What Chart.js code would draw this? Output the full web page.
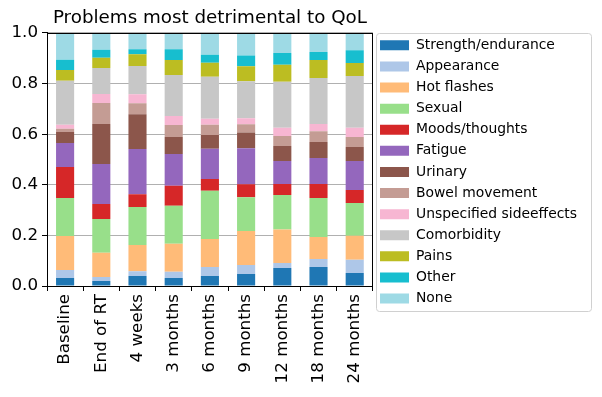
<!DOCTYPE html>
<html>
<head>
<meta charset="utf-8">
<script src="https://cdn.jsdelivr.net/npm/chart.js@4.4.1/dist/chart.umd.min.js"></script>
<style>
  html, body { margin: 0; padding: 0; background: #fff; }
  #wrap { width: 602px; height: 397px; }
</style>
</head>
<body>
<div id="wrap"><canvas id="grafico" width="602" height="397"></canvas></div>
<script>
// categorias do eixo x
const momentos = ['Baseline', 'End of RT', '4 weeks', '3 months', '6 months', '9 months', '12 months', '18 months', '24 months'];

// fração de cada problema por momento
const strengthEndurance = [0.032, 0.020, 0.040, 0.032, 0.040, 0.047, 0.071, 0.075, 0.051];
const appearance        = [0.031, 0.016, 0.018, 0.024, 0.035, 0.036, 0.020, 0.032, 0.053];
const hotFlashes        = [0.135, 0.095, 0.104, 0.111, 0.111, 0.134, 0.132, 0.087, 0.095];
const sexual            = [0.150, 0.134, 0.150, 0.150, 0.190, 0.134, 0.137, 0.154, 0.129];
const moodsThoughts     = [0.122, 0.059, 0.051, 0.079, 0.047, 0.051, 0.043, 0.055, 0.051];
const fatigue           = [0.095, 0.158, 0.178, 0.126, 0.119, 0.142, 0.091, 0.103, 0.115];
const urinary           = [0.044, 0.158, 0.138, 0.067, 0.055, 0.063, 0.059, 0.063, 0.055];
const bowelMovement     = [0.012, 0.083, 0.043, 0.047, 0.040, 0.032, 0.040, 0.043, 0.040];
const unspecified       = [0.016, 0.036, 0.036, 0.036, 0.024, 0.024, 0.032, 0.028, 0.036];
const comorbidity       = [0.174, 0.103, 0.111, 0.162, 0.166, 0.146, 0.182, 0.182, 0.205];
const pains             = [0.043, 0.040, 0.047, 0.059, 0.055, 0.059, 0.067, 0.071, 0.051];
const other             = [0.040, 0.032, 0.020, 0.043, 0.032, 0.043, 0.047, 0.032, 0.051];
const none              = [0.107, 0.067, 0.063, 0.063, 0.087, 0.087, 0.079, 0.075, 0.067];

const nomesSeries = ['Strength/endurance', 'Appearance', 'Hot flashes', 'Sexual', 'Moods/thoughts', 'Fatigue',
    'Urinary', 'Bowel movement', 'Unspecified sideeffects', 'Comorbidity', 'Pains', 'Other', 'None'];
const valoresSeries = [strengthEndurance, appearance, hotFlashes, sexual, moodsThoughts, fatigue,
    urinary, bowelMovement, unspecified, comorbidity, pains, other, none];

const ticksY = [0.0, 0.2, 0.4, 0.6, 0.8, 1.0];

// cores no estilo tab20
const cores = ['#1f77b4', '#aec7e8', '#ffbb78', '#98df8a', '#d62728', '#9467bd',
    '#8c564b', '#c49c94', '#f7b6d2', '#c7c7c7', '#bcbd22', '#17becf', '#9edae5'];

window.onload = () => {
    apresentarGrafico();
}

// moldura preta em volta da área do gráfico e caixa da legenda
const molduraPlugin = {
    id: 'moldura',
    afterDraw(chart) {
        const { ctx, chartArea } = chart;
        ctx.save();
        ctx.strokeStyle = '#000';
        ctx.lineWidth = 1;
        ctx.strokeRect(Math.round(chartArea.left) + 0.5, Math.round(chartArea.top) + 0.5,
            Math.round(chartArea.right - chartArea.left) - 1, Math.round(chartArea.bottom - chartArea.top));

        const caixas = chart.legend.legendHitBoxes;
        if (caixas && caixas.length) {
            const esq = caixas[0].left - 4;
            const topo = caixas[0].top - 5;
            const ult = caixas[caixas.length - 1];
            const baixo = ult.top + ult.height + 6;
            const dir = Math.max(...caixas.map(c => c.left + c.width)) + 14;
            ctx.strokeStyle = '#d0d0d0';
            ctx.beginPath();
            ctx.roundRect(Math.round(esq) + 0.5, Math.round(topo) + 0.5, Math.round(dir - esq), Math.round(baixo - topo), 3);
            ctx.stroke();
        }
        ctx.restore();
    }
};

function apresentarGrafico() {
    Chart.defaults.font.family = "'DejaVu Sans', sans-serif";
    Chart.defaults.color = '#000';

    const contexto = document.getElementById('grafico');

    const datasets = nomesSeries.map((nome, i) => ({
        label: nome,
        data: valoresSeries[i],
        backgroundColor: cores[i],
        borderWidth: 0,
        barPercentage: 0.5,
        categoryPercentage: 1.0
    }));

    new Chart(contexto, {
        type: 'bar',
        data: { labels: momentos, datasets: datasets },
        plugins: [molduraPlugin],
        options: {
            responsive: false,
            maintainAspectRatio: false,
            animation: false,
            layout: { padding: { left: 0, right: 15, top: 0, bottom: 0 } },
            plugins: {
                title: {
                    display: true,
                    fullSize: false,
                    text: 'Problems most detrimental to QoL',
                    font: { size: 18.3, weight: 'normal' },
                    color: '#000',
                    padding: { top: 7, bottom: 4 }
                },
                legend: {
                    position: 'right',
                    align: 'start',
                    maxWidth: 260,
                    title: { display: true, text: '', font: { size: 1 }, padding: { top: 30, bottom: 0 } },
                    labels: {
                        boxWidth: 29,
                        boxHeight: 10,
                        padding: 7.2,
                        font: { size: 13.9 },
                        color: '#000'
                    }
                },
                tooltip: { enabled: false }
            },
            scales: {
                x: {
                    stacked: true,
                    grid: { display: true, drawOnChartArea: false, tickColor: '#000', tickLength: 5 },
                    border: { color: '#000' },
                    ticks: { minRotation: 90, maxRotation: 90, font: { size: 16.7 }, color: '#000', padding: 3 },
                    afterFit(scale) { scale.height = 111; }
                },
                y: {
                    stacked: true,
                    min: 0,
                    max: 1,
                    z: 1,
                    afterBuildTicks(scale) { scale.ticks = ticksY.map(v => ({ value: v })); },
                    grid: { color: '#b0b0b0', lineWidth: 1, tickColor: '#000', tickLength: 5 },
                    border: { color: '#000' },
                    ticks: { font: { size: 16.7 }, color: '#000', padding: 4, callback: v => v.toFixed(1) },
                    afterFit(scale) { scale.width = 47; }
                }
            }
        }
    });
}
</script>
</body>
</html>
